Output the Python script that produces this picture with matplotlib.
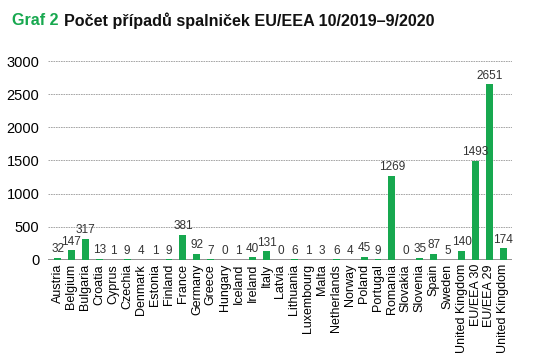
import numpy as np
import matplotlib
matplotlib.use('Agg')
import matplotlib.pyplot as plt

plt.rcParams['font.family'] = ['Liberation Sans', 'DejaVu Sans']

countries = ['Austria', 'Belgium', 'Bulgaria', 'Croatia', 'Cyprus', 'Czechia', 'Denmark',
             'Estonia', 'Finland', 'France', 'Germany', 'Greece', 'Hungary', 'Iceland',
             'Ireland', 'Italy', 'Latvia', 'Lithuania', 'Luxembourg', 'Malta', 'Netherlands',
             'Norway', 'Poland', 'Portugal', 'Romania', 'Slovakia', 'Slovenia', 'Spain',
             'Sweden', 'United Kingdom', 'EU/EEA 30', 'EU/EEA 29', 'United Kingdom']
cases = [32, 147, 317, 13, 1, 9, 4, 1, 9, 381, 92, 7, 0, 1, 40, 131, 0, 6, 1, 3, 6, 4,
         45, 9, 1269, 0, 35, 87, 5, 140, 1493, 2651, 174]
yticks = [0, 500, 1000, 1500, 2000, 2500, 3000]

green = '#17a84f'

fig = plt.figure(figsize=(5.37, 3.57), dpi=100)
ax = fig.add_axes([0.089, 0.272, 0.864, 0.557])

x = np.arange(len(countries))
ax.bar(x, cases, width=0.5, color=green, zorder=3)
for xi, v in zip(x, cases):
    ax.text(xi, v + 40, str(v), ha='center', va='bottom', fontsize=8.5, color='#333333', zorder=4)

ax.set_xlim(-0.7, len(countries) - 0.4)
ax.set_ylim(0, 3000)
ax.set_yticks(yticks)
ax.set_yticklabels([str(t) for t in yticks], fontsize=10.5)
ax.set_xticks(x)
ax.set_xticklabels(countries, rotation=90, fontsize=9)
ax.tick_params(axis='both', length=0, pad=3)
ax.tick_params(axis='y', pad=6)
for s in ax.spines.values():
    s.set_visible(False)
ax.yaxis.grid(True, linestyle=(0, (2, 1)), color='#999999', linewidth=0.6, zorder=0)
ax.axhline(0, color='#888888', linewidth=2, zorder=2)

fig.text(0.022, 0.942, 'Graf 2', color=green, fontsize=11.6, fontweight='bold', va='center')
fig.text(0.12, 0.942, 'Počet případů spalniček EU/EEA 10/2019–9/2020', color='#111111',
         fontsize=11.6, fontweight='bold', va='center')

plt.savefig('out.png', dpi=100)
